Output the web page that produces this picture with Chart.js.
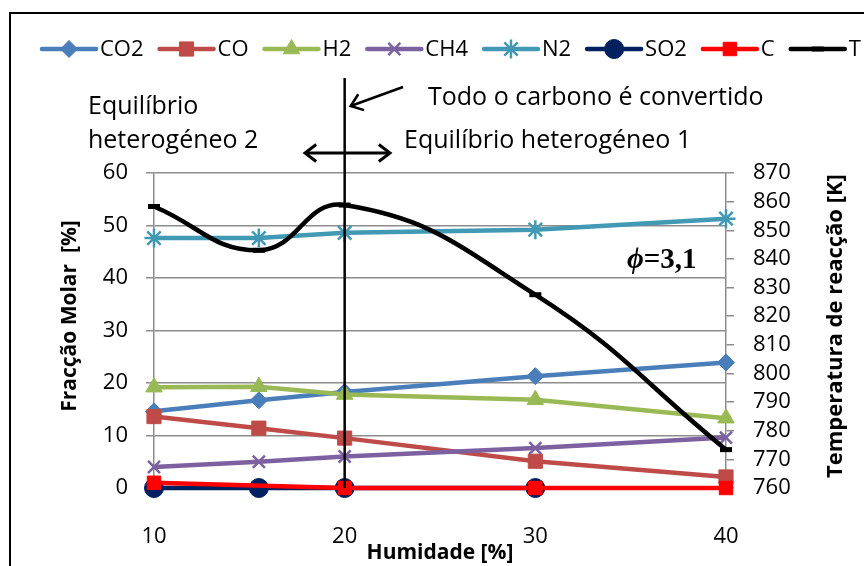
<!DOCTYPE html>
<html>
<head>
<meta charset="utf-8">
<script src="https://cdn.jsdelivr.net/npm/chart.js@4.4.1/dist/chart.umd.min.js"></script>
<style>
  body { margin: 0; background: #fff; }
  canvas { display: block; }
</style>
</head>
<body>
<canvas id="grafico" width="864" height="566"></canvas>
<script>
// dados
let humidade = [10, 15.5, 20, 30, 40];
let co2 = [14.6, 16.7, 18.3, 21.3, 23.9];
let co = [13.6, 11.4, 9.5, 5.1, 2.1];
let h2 = [19.2, 19.3, 17.8, 16.8, 13.3];
let ch4 = [4.0, 5.0, 6.0, 7.6, 9.6];
let n2 = [47.6, 47.6, 48.6, 49.2, 51.3];
let humidadeSO2 = [10, 15.5, 20, 30];
let so2 = [0, 0, 0, 0];
let humidadeC = [10, 20, 30, 40];
let carbono = [1.0, 0, 0, 0];
let temperatura = [858.3, 843, 858.8, 827.5, 773.4];

let ticksFraccao = [0, 10, 20, 30, 40, 50, 60];
let ticksTemp = [760, 770, 780, 790, 800, 810, 820, 830, 840, 850, 860, 870];

const fonte = '"Open Sans", "Noto Sans", sans-serif';
const cinza = '#8c8c8c';

function pontos(xs, ys) {
    return xs.map((x, i) => ({ x: x, y: ys[i] }));
}

function serie(nome, xs, ys, cor, estilo, raio, ordem) {
    return {
        label: nome,
        data: pontos(xs, ys),
        borderColor: cor,
        backgroundColor: cor,
        pointBackgroundColor: cor,
        pointBorderColor: cor,
        borderWidth: 4.5,
        pointStyle: estilo,
        pointRadius: raio,
        pointBorderWidth: (estilo == 'crossRot' || estilo == 'star') ? 2.5 : 1,
        tension: 0,
        clip: false,
        yAxisID: 'y',
        order: ordem
    };
}

let datasets = [
    serie('CO2', humidade, co2, '#4A7EBB', 'rectRot', 8.5, 8),
    serie('CO', humidade, co, '#BE4B48', 'rect', 10, 7),
    serie('H2', humidade, h2, '#98B954', 'triangle', 9.5, 6),
    serie('CH4', humidade, ch4, '#7D60A0', 'crossRot', 8.5, 5),
    serie('N2', humidade, n2, '#4199B4', 'star', 9.5, 4),
    serie('SO2', humidadeSO2, so2, '#002060', 'circle', 9.5, 3),
    serie('C', humidadeC, carbono, '#FF0000', 'rect', 9.5, 2),
    serie('T', humidade, temperatura, '#000000', 'line', 6, 1)
];
datasets[7].yAxisID = 'y1';
datasets[7].tension = 0.45;
datasets[7].pointBorderWidth = 5;

function seta(ctx, x1, y1, x2, y2, tam) {
    // ponta aberta em (x2,y2)
    let ang = Math.atan2(y2 - y1, x2 - x1);
    ctx.beginPath();
    ctx.moveTo(x2 - tam * Math.cos(ang - 0.65), y2 - tam * Math.sin(ang - 0.65));
    ctx.lineTo(x2, y2);
    ctx.lineTo(x2 - tam * Math.cos(ang + 0.65), y2 - tam * Math.sin(ang + 0.65));
    ctx.stroke();
}

const decoracao = {
    id: 'decoracao',
    beforeDraw(chart) {
        const ctx = chart.ctx;
        ctx.save();
        ctx.fillStyle = '#fff';
        ctx.fillRect(0, 0, chart.width, chart.height);
        ctx.strokeStyle = '#000';
        ctx.lineWidth = 2;
        ctx.strokeRect(10, 13, 1000, 1000);
        ctx.restore();
    },
    afterDraw(chart) {
        const ctx = chart.ctx;
        const sx = chart.scales.x, sy = chart.scales.y;
        ctx.save();

        // legenda
        let lx = 42, ly = 49;
        ctx.font = '22px ' + fonte;
        ctx.textBaseline = 'middle';
        chart.data.datasets.forEach(ds => {
            ctx.strokeStyle = ds.borderColor;
            ctx.fillStyle = ds.borderColor;
            ctx.lineWidth = 4.5;
            ctx.lineCap = 'round';
            ctx.beginPath();
            ctx.moveTo(lx, ly);
            ctx.lineTo(lx + 54, ly);
            ctx.stroke();
            ctx.lineCap = 'butt';
            ctx.lineWidth = ds.pointBorderWidth;
            Chart.helpers.drawPoint(ctx, {
                pointStyle: ds.pointStyle, radius: ds.pointRadius,
                borderWidth: ds.pointBorderWidth, rotation: 0
            }, lx + 27, ly);
            ctx.fillStyle = '#000';
            ctx.fillText(ds.label, lx + 58, ly + 1);
            lx += 58 + ctx.measureText(ds.label).width + 16;
        });

        // linha vertical em 20 %
        let x20 = sx.getPixelForValue(20);
        ctx.strokeStyle = '#000';
        ctx.lineWidth = 2.5;
        ctx.beginPath();
        ctx.moveTo(x20, 78);
        ctx.lineTo(x20, sy.getPixelForValue(0));
        ctx.stroke();

        // seta diagonal
        ctx.lineWidth = 2.5;
        ctx.beginPath();
        ctx.moveTo(403, 87);
        ctx.lineTo(x20 + 6, 106);
        ctx.stroke();
        seta(ctx, 403, 87, x20 + 6, 106, 14);

        // seta dupla
        ctx.lineWidth = 3;
        ctx.beginPath();
        ctx.moveTo(305, 153);
        ctx.lineTo(390, 153);
        ctx.stroke();
        seta(ctx, 390, 153, 305, 153, 14);
        seta(ctx, 305, 153, 390, 153, 14);

        // textos
        ctx.fillStyle = '#000';
        ctx.font = '25px ' + fonte;
        ctx.textBaseline = 'alphabetic';
        ctx.textAlign = 'left';
        ctx.fillText('Equilíbrio', 88, 114);
        ctx.fillText('heterogéneo 2', 88, 148);
        ctx.fillText('Todo o carbono é convertido', 428, 105);
        ctx.fillText('Equilíbrio heterogéneo 1', 404, 148);

        // phi
        ctx.font = 'italic bold 29px "Liberation Serif", "DejaVu Serif", serif';
        ctx.fillText('ϕ', 627, 268);
        let wphi = ctx.measureText('ϕ').width;
        ctx.font = 'bold 29px "Liberation Serif", "DejaVu Serif", serif';
        ctx.fillText('=3,1', 627 + wphi, 268);

        // títulos verticais
        ctx.font = 'bold 21px ' + fonte;
        ctx.textBaseline = 'middle';
        ctx.save();
        ctx.translate(70, 316);
        ctx.rotate(-Math.PI / 2);
        ctx.textAlign = 'center';
        ctx.fillText('Fracção Molar  [%]', 0, 0);
        ctx.restore();
        ctx.font = 'bold 22px ' + fonte;
        ctx.save();
        ctx.translate(836, 478);
        ctx.rotate(-Math.PI / 2);
        ctx.textAlign = 'left';
        ctx.fillText('Temperatura de reacção [K]', 0, 0);
        ctx.restore();

        ctx.restore();
    }
};

var ctx = document.getElementById('grafico').getContext('2d');

var config = {
    type: 'line',
    data: { datasets: datasets },
    options: {
        responsive: false,
        animation: false,
        layout: { padding: { top: 173, left: 0, right: 0, bottom: 0 } },
        plugins: { legend: { display: false }, tooltip: { enabled: false } },
        scales: {
            x: {
                type: 'linear',
                min: 10, max: 40,
                afterFit: s => { s.height = 78; },
                grid: { display: false, drawTicks: false },
                border: { display: false },
                ticks: {
                    stepSize: 10, padding: 36, color: '#000',
                    font: { family: fonte, size: 22 }
                },
                title: {
                    display: true, text: 'Humidade [%]', color: '#000',
                    font: { family: fonte, size: 21, weight: 'bold' },
                    padding: { top: 0, bottom: 0 }
                }
            },
            y: {
                position: 'left',
                min: 0, max: 60,
                afterFit: s => { s.width = 154; },
                afterBuildTicks: s => { s.ticks = ticksFraccao.map(v => ({ value: v })); },
                grid: { color: cinza, lineWidth: 1.5, tickLength: 8 },
                border: { color: cinza, width: 1.5 },
                ticks: { autoSkip: false, padding: 18, color: '#000', font: { family: fonte, size: 22 } }
            },
            y1: {
                position: 'right',
                min: 760, max: 870,
                afterFit: s => { s.width = 138; },
                afterBuildTicks: s => { s.ticks = ticksTemp.map(v => ({ value: v })); },
                grid: { drawOnChartArea: false, color: cinza, lineWidth: 1.5, tickLength: 8 },
                border: { color: cinza, width: 1.5 },
                ticks: { autoSkip: false, padding: 19, color: '#000', font: { family: fonte, size: 22 } }
            }
        }
    },
    plugins: [decoracao]
};

let grafico = new Chart(ctx, config);
</script>
</body>
</html>
